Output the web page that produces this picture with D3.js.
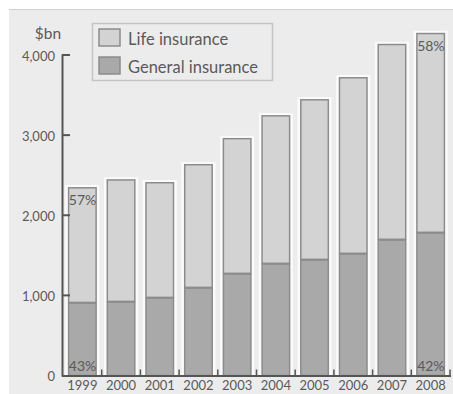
<!DOCTYPE html>
<html>
<head>
<meta charset="utf-8">
<script src="https://cdn.jsdelivr.net/npm/d3@7"></script>
<style>
  html, body { margin: 0; padding: 0; background: #ffffff; }
  svg { display: block; }
  text { font-family: Lato, "Open Sans", sans-serif; fill: #5a5a5a; }
</style>
</head>
<body>
<svg id="chart" width="453" height="394"></svg>
<script>
// Insurance premiums, $bn
const years = ["1999", "2000", "2001", "2002", "2003", "2004", "2005", "2006", "2007", "2008"];
const general = [912, 925, 975, 1100, 1275, 1400, 1450, 1525, 1700, 1787];
const life = [1440, 1525, 1440, 1540, 1690, 1850, 2000, 2200, 2440, 2490];
const seriesNames = ["Life insurance", "General insurance"];
const yTicks = [0, 1000, 2000, 3000, 4000];
// share labels shown on the first and last bars
const shareLabels = [
  { year: "1999", top: "57%", bottom: "43%" },
  { year: "2008", top: "58%", bottom: "42%" }
];

const colors = { life: "#d3d3d3", general: "#a9a9a9", stroke: "#8c8c8c", bg: "#ececec" };

const svg = d3.select("#chart");

// panel background
svg.append("rect").attr("x", 9).attr("y", 9).attr("width", 444).attr("height", 385).attr("fill", colors.bg);
svg.append("line").attr("x1", 9).attr("x2", 453).attr("y1", 9.5).attr("y2", 9.5)
  .attr("stroke", "#d0d0d0").attr("stroke-width", 1);

const x = d3.scaleBand().domain(years).range([63, 450]).paddingInner(0.25).paddingOuter(0.125);
const y = d3.scaleLinear().domain([0, 4000]).range([375.5, 55]);

const rows = years.map((yr, i) => ({ year: yr, general: general[i], life: life[i] }));
const stack = d3.stack().keys(["general", "life"])(rows);

// soft white halo behind each bar
svg.append("g").selectAll("rect").data(rows).join("rect")
  .attr("x", d => x(d.year) - 2.5)
  .attr("y", d => y(d.general + d.life) - 2)
  .attr("width", x.bandwidth() + 5)
  .attr("height", d => y(0) - y(d.general + d.life) + 2)
  .attr("fill", "#fbfbfb");

const barG = svg.append("g");
stack.forEach(layer => {
  barG.append("g").selectAll("rect").data(layer).join("rect")
    .attr("x", d => x(d.data.year) + 0.75)
    .attr("y", d => y(d[1]) + 0.75)
    .attr("width", x.bandwidth() - 1.5)
    .attr("height", d => y(d[0]) - y(d[1]) - 0.75)
    .attr("fill", layer.key === "life" ? colors.life : colors.general)
    .attr("stroke", colors.stroke)
    .attr("stroke-width", 1.5);
});

// y axis
const yAxis = d3.axisLeft(y).tickValues(yTicks).tickFormat(d3.format(",")).tickSize(0).tickPadding(7);
const yg = svg.append("g").attr("transform", "translate(62,0)").call(yAxis);
yg.select(".domain").remove();
yg.selectAll("text").style("font-size", "13px").attr("fill", "#5a5a5a").attr("dy", "0.4em");
svg.append("line").attr("x1", 62.5).attr("x2", 62.5).attr("y1", y(4000) - 0.5).attr("y2", y(0) + 1)
  .attr("stroke", "#555").attr("stroke-width", 2);
svg.append("g").selectAll("line").data(yTicks.filter(v => v > 0)).join("line")
  .attr("x1", 62).attr("x2", 70).attr("y1", d => y(d)).attr("y2", d => y(d))
  .attr("stroke", "#555").attr("stroke-width", 2);

// x axis
const xAxis = d3.axisBottom(x).tickSize(0).tickPadding(5);
const xg = svg.append("g").attr("transform", `translate(0,${y(0)})`).call(xAxis);
xg.select(".domain").remove();
xg.selectAll("text").style("font-size", "13px").attr("fill", "#5a5a5a");
svg.append("line").attr("x1", 62).attr("x2", 451).attr("y1", y(0) + 0.5).attr("y2", y(0) + 0.5)
  .attr("stroke", "#555").attr("stroke-width", 2);
// small boundary ticks between categories
svg.append("g").selectAll("line").data(years).join("line")
  .attr("x1", d => x(d) + x.step() - x.step() * x.paddingInner() / 2)
  .attr("x2", d => x(d) + x.step() - x.step() * x.paddingInner() / 2)
  .attr("y1", y(0)).attr("y2", y(0) - 6)
  .attr("stroke", "#555").attr("stroke-width", 1.5);

// unit label
svg.append("text").attr("x", 48).attr("y", 39).attr("text-anchor", "middle")
  .style("font-size", "15.5px").text("$bn");

// share labels
shareLabels.forEach(s => {
  const i = years.indexOf(s.year);
  const top = y(general[i] + life[i]);
  svg.append("text").attr("x", x(s.year) + 1).attr("y", top + 18)
    .style("font-size", "14px").attr("fill", "#666").text(s.top);
  svg.append("text").attr("x", x(s.year) + 1).attr("y", y(0) - 5)
    .style("font-size", "14px").attr("fill", "#666").text(s.bottom);
});

// legend
const lg = svg.append("g");
lg.append("rect").attr("x", 92.5).attr("y", 23.5).attr("width", 180).attr("height", 57)
  .attr("fill", colors.bg).attr("stroke", "#c4c4c4").attr("stroke-width", 1.5);
[colors.life, colors.general].forEach((c, i) => {
  lg.append("rect").attr("x", 99).attr("y", 29 + i * 28).attr("width", 21).attr("height", 17)
    .attr("fill", c).attr("stroke", colors.stroke).attr("stroke-width", 1.5);
  lg.append("text").attr("x", 128).attr("y", 45 + i * 28)
    .style("font-size", "16.5px").attr("fill", "#555").text(seriesNames[i]);
});
</script>
</body>
</html>
